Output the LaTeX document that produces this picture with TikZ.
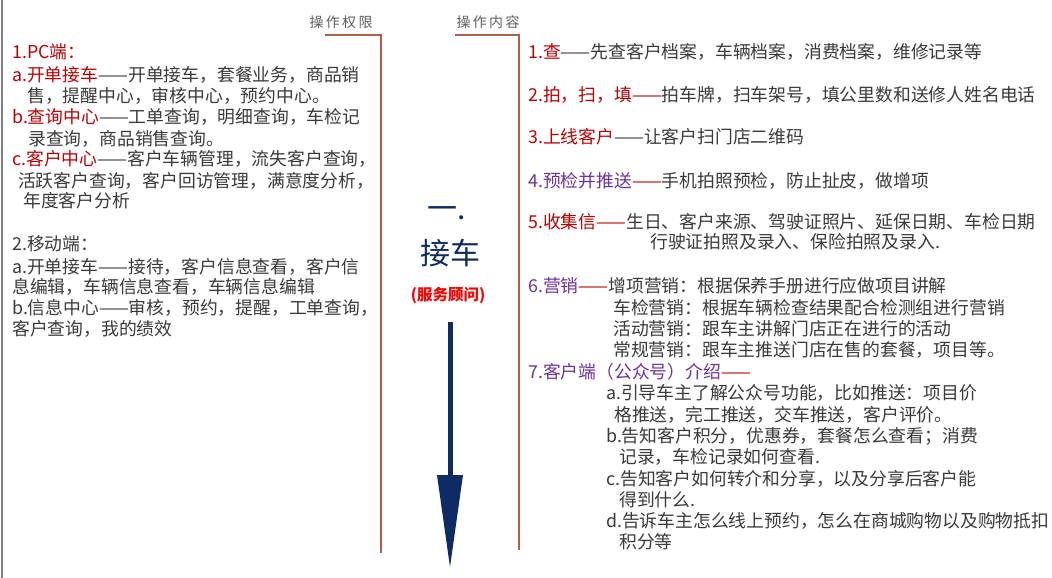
\documentclass[tikz,border=0pt]{standalone}
\usepackage{fontspec}
\setmainfont{Noto Sans CJK SC}
\definecolor{txt}{HTML}{3A3A3A}
\definecolor{hl}{HTML}{C00000}
\definecolor{pu}{HTML}{7030A0}
\definecolor{navy}{HTML}{0F2B66}
\definecolor{brk}{HTML}{B0604A}
\definecolor{lbl}{HTML}{606060}
\definecolor{edge}{HTML}{808080}
\newcommand{\redtx}[1]{\textcolor{hl}{#1}}
\newcommand{\purtx}[1]{\textcolor{pu}{#1}}
\begin{document}
\begin{tikzpicture}[x=1pt,y=-1pt,
  ln/.style={inner sep=0pt, anchor=west, text=txt, text height=14pt, text depth=3pt,
             font=\fontsize{17.8}{17.8}\selectfont},
  hdr/.style={inner sep=0pt, text=lbl, font=\fontsize{14}{14}\selectfont},
  brkline/.style={draw=brk, line width=1.1pt}]
\useasboundingbox (0,0) rectangle (1052,578);
\fill[white] (0,0) rectangle (1052,578);
\draw[edge, line width=2pt] (2,0) -- (2,578);

% headers and brackets
\node[hdr] (h1) at (341,22) {操\,作\,权\,限};
\node[hdr] (h2) at (488,22) {操\,作\,内\,容};
\coordinate (b1a) at (325,35); \coordinate (b1b) at (381,35); \coordinate (b1c) at (381,553);
\coordinate (b2a) at (455,35); \coordinate (b2b) at (519,35); \coordinate (b2c) at (519,550);
\draw[brkline] (b1a) -- (b1b) -- (b1c);
\draw[brkline] (b2a) -- (b2b) -- (b2c);

% left column
\node[ln] (l1) at (12,53) {\redtx{1.PC端：}};
\node[ln] (l2) at (12,76) {\redtx{a.开单接车}——开单接车，套餐业务，商品销};
\node[ln] (l3) at (27,97) {售，提醒中心，审核中心，预约中心。};
\node[ln] (l4) at (12,118) {\redtx{b.查询中心}——工单查询，明细查询，车检记};
\node[ln] (l5) at (28,140) {录查询，商品销售查询。};
\node[ln] (l6) at (12,160) {\redtx{c.客户中心}——客户车辆管理，流失客户查询，};
\node[ln] (l7) at (18,182) {活跃客户查询，客户回访管理，满意度分析，};
\node[ln] (l8) at (23,202) {年度客户分析};
\node[ln] (l9) at (12,245) {2.移动端：};
\node[ln] (l10) at (12,268) {a.开单接车——接待，客户信息查看，客户信};
\node[ln] (l11) at (12,288) {息编辑，车辆信息查看，车辆信息编辑};
\node[ln] (l12) at (12,309) {b.信息中心——审核，预约，提醒，工单查询，};
\node[ln] (l13) at (12,330) {客户查询，我的绩效};

% centre
\node[inner sep=0pt, text=navy, font=\fontsize{30}{30}\selectfont] (c1) at (447,213) {一.};
\node[inner sep=0pt, text=navy, font=\fontsize{30}{30}\selectfont] (c2) at (450,253) {接车};
\node[inner sep=0pt, text=red, font=\fontsize{15.5}{15.5}\selectfont\bfseries] (c3) at (448,295) {(服务顾问)};
\coordinate (a1) at (450,322);
\coordinate (a2) at (450,476);
\coordinate (tl) at (437,475);
\coordinate (tr) at (463,475);
\coordinate (tip) at (450,567);
\draw[navy, line width=5pt] (a1) -- (a2);
\fill[navy] (tl) -- (tr) -- (tip) -- cycle;

% right column
\node[ln] (r1) at (528,53) {\redtx{1.查}——先查客户档案，车辆档案，消费档案，维修记录等};
\node[ln] (r2) at (528,96) {\redtx{2.拍，扫，填——}拍车牌，扫车架号，填公里数和送修人姓名电话};
\node[ln] (r3) at (528,138) {\redtx{3.上线客户}——让客户扫门店二维码};
\node[ln] (r4) at (528,182) {\purtx{4.预检并推送}\redtx{——}手机拍照预检，防止扯皮，做增项};
\node[ln] (r5) at (528,223) {\redtx{5.收集信——}生日、客户来源、驾驶证照片、延保日期、车检日期};
\node[ln] (r5b) at (650,243) {行驶证拍照及录入、保险拍照及录入.};
\node[ln] (r6) at (528,287) {\purtx{6.营销}\redtx{——}增项营销：根据保养手册进行应做项目讲解};
\node[ln] (r6b) at (613,309) {车检营销：根据车辆检查结果配合检测组进行营销};
\node[ln] (r6c) at (613,330) {活动营销：跟车主讲解门店正在进行的活动};
\node[ln] (r6d) at (613,351) {常规营销：跟车主推送门店在售的套餐，项目等。};
\node[ln] (r7) at (528,373) {\purtx{7.客户端（公众号）介绍}\redtx{——}};
\node[ln] (r7a) at (606,394) {a.引导车主了解公众号功能，比如推送：项目价};
\node[ln] (r7a2) at (614,416) {格推送，完工推送，交车推送，客户评价。};
\node[ln] (r7b) at (606,437) {b.告知客户积分，优惠券，套餐怎么查看；消费};
\node[ln] (r7b2) at (619,458) {记录，车检记录如何查看.};
\node[ln] (r7c) at (606,480) {c.告知客户如何转介和分享，以及分享后客户能};
\node[ln] (r7c2) at (619,501) {得到什么.};
\node[ln] (r7d) at (606,522) {d.告诉车主怎么线上预约，怎么在商城购物以及购物抵扣};
\node[ln] (r7d2) at (619,543) {积分等};
\end{tikzpicture}
\end{document}
